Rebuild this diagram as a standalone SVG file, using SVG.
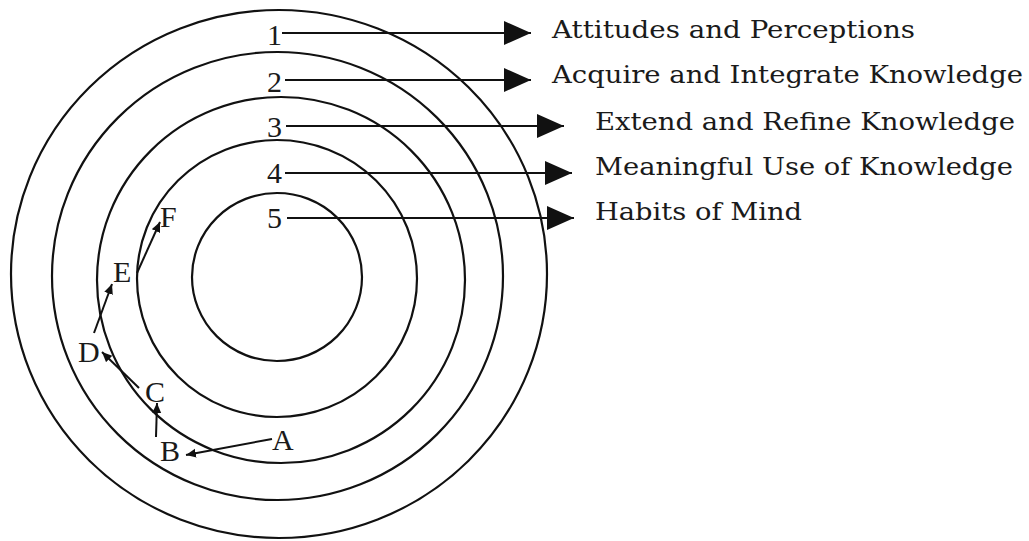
<svg xmlns="http://www.w3.org/2000/svg" width="1029" height="541" viewBox="0 0 1029 541">
<style>
.ring{fill:none;stroke:#111;stroke-width:2.2}
.con{stroke:#111;stroke-width:2;fill:none}
.big{marker-end:url(#head)}
.small{marker-end:url(#tip)}
.lbl{font-family:"DejaVu Serif","Liberation Serif",serif;font-size:24px;fill:#1a1a1a}
.num{font-family:"Liberation Serif","Times New Roman",serif;font-size:30px;fill:#1a1a1a}
</style>
<defs>
<marker id="head" markerUnits="userSpaceOnUse" markerWidth="28" markerHeight="25" refX="27" refY="12" orient="auto">
<path d="M0,0 L27,12 L0,24 z" fill="#111"/>
</marker>
<marker id="tip" markerUnits="userSpaceOnUse" markerWidth="11" markerHeight="10" refX="10" refY="4.5" orient="auto">
<path d="M0,0 L10,4.5 L0,9 z" fill="#111"/>
</marker>
</defs>
<rect width="1029" height="541" fill="#fff"/>
<g id="ring1">
<ellipse class="ring" cx="279" cy="274" rx="268" ry="264"/>
<text class="num" x="274.5" y="45" text-anchor="middle">1</text>
<text class="lbl" x="552" y="38" textLength="363" lengthAdjust="spacingAndGlyphs">Attitudes and Perceptions</text>
</g>
<g id="ring2">
<ellipse class="ring" cx="277.5" cy="276" rx="225.5" ry="224"/>
<text class="num" x="274.5" y="92" text-anchor="middle">2</text>
<text class="lbl" x="552" y="83" textLength="471" lengthAdjust="spacingAndGlyphs">Acquire and Integrate Knowledge</text>
</g>
<g id="ring3">
<ellipse class="ring" cx="281" cy="280" rx="184" ry="183"/>
<text class="num" x="274.5" y="137" text-anchor="middle">3</text>
<text class="lbl" x="595" y="130" textLength="420" lengthAdjust="spacingAndGlyphs">Extend and Refine Knowledge</text>
</g>
<g id="ring4">
<ellipse class="ring" cx="277" cy="278.5" rx="140" ry="138.5"/>
<text class="num" x="274.5" y="183" text-anchor="middle">4</text>
<text class="lbl" x="595" y="175" textLength="418" lengthAdjust="spacingAndGlyphs">Meaningful Use of Knowledge</text>
</g>
<g id="ring5">
<ellipse class="ring" cx="277" cy="277" rx="85" ry="84"/>
<text class="num" x="274.5" y="228" text-anchor="middle">5</text>
<text class="lbl" x="595" y="220" textLength="207" lengthAdjust="spacingAndGlyphs">Habits of Mind</text>
</g>
<g id="nodeA"><text class="num" x="272" y="450">A</text></g>
<g id="nodeB"><text class="num" x="160" y="461">B</text></g>
<g id="nodeC"><text class="num" x="145" y="402">C</text></g>
<g id="nodeD"><text class="num" x="78" y="362">D</text></g>
<g id="nodeE"><text class="num" x="113" y="282">E</text></g>
<g id="nodeF"><text class="num" x="160" y="227">F</text></g>
<g id="connectors">
<line class="con big" x1="282" y1="33" x2="531" y2="33"/>
<line class="con big" x1="285" y1="80" x2="531" y2="80"/>
<line class="con big" x1="286" y1="126" x2="564" y2="126"/>
<line class="con big" x1="285" y1="173" x2="572" y2="173"/>
<line class="con big" x1="287" y1="218" x2="574" y2="218"/>
<line class="con small" x1="272" y1="439" x2="186" y2="455"/>
<line class="con small" x1="156" y1="437" x2="157" y2="403"/>
<line class="con small" x1="139" y1="388" x2="102" y2="352"/>
<line class="con small" x1="94" y1="333" x2="112" y2="284"/>
<line class="con small" x1="137" y1="273" x2="160" y2="222"/>
</g>
</svg>
